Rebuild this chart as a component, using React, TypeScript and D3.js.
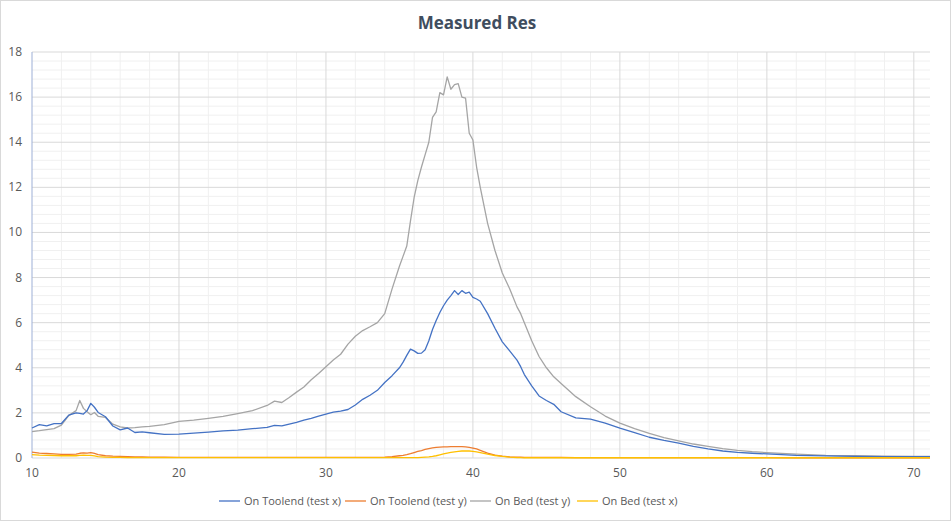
import { useEffect } from 'react';
import * as d3 from 'd3';

const freq = [
  10, 10.5, 11, 11.5, 12, 12.5, 13, 13.25, 13.5, 13.75,
  14, 14.25, 14.5, 15, 15.5, 16, 16.5, 17, 17.5, 18,
  19, 20, 21, 22, 23, 24, 25, 26, 26.5, 27,
  27.5, 28, 28.5, 29, 29.5, 30, 30.5, 31, 31.5, 32,
  32.5, 33, 33.5, 34, 34.5, 35, 35.25, 35.5, 35.75, 36,
  36.25, 36.5, 36.75, 37,
  37.25, 37.5, 37.75, 38, 38.25, 38.5, 38.75, 39, 39.25, 39.5,
  39.75, 40, 40.25, 40.5, 41, 41.5, 42, 42.5, 43, 43.25,
  43.5, 44, 44.5, 45, 45.5, 46, 47, 48, 49, 50,
  51, 52, 53, 54, 55, 56, 57, 58, 59, 60,
  62, 64, 66, 68, 70, 71.1,
];

const toolendX = [
  1.33, 1.48, 1.42, 1.52, 1.53, 1.9, 2.0, 1.98, 1.95, 2.1,
  2.42, 2.25, 2.02, 1.83, 1.42, 1.25, 1.33, 1.13, 1.16, 1.12,
  1.05, 1.06, 1.1, 1.15, 1.2, 1.24, 1.3, 1.36, 1.45, 1.42,
  1.5, 1.58, 1.68, 1.76, 1.86, 1.95, 2.03, 2.08, 2.15, 2.35,
  2.6, 2.78, 3.0, 3.35, 3.65, 4.0, 4.25, 4.55, 4.83, 4.75,
  4.64, 4.65, 4.8, 5.2,
  5.7, 6.1, 6.45, 6.75, 7.0, 7.2, 7.42, 7.25, 7.42, 7.3,
  7.35, 7.12, 7.05, 6.95, 6.4, 5.75, 5.15, 4.75, 4.34, 4.05,
  3.7, 3.2, 2.75, 2.55, 2.38, 2.05, 1.78, 1.72, 1.55, 1.32,
  1.12, 0.92, 0.78, 0.66, 0.52, 0.4, 0.31, 0.25, 0.21, 0.18,
  0.12, 0.09, 0.07, 0.06, 0.06, 0.06,
];

const toolendY = [
  0.26, 0.22, 0.2, 0.18, 0.16, 0.16, 0.17, 0.21, 0.23, 0.22,
  0.24, 0.2, 0.15, 0.1, 0.08, 0.07, 0.06, 0.05, 0.05, 0.04,
  0.04, 0.03, 0.03, 0.03, 0.03, 0.03, 0.03, 0.03, 0.03, 0.03,
  0.03, 0.03, 0.03, 0.03, 0.03, 0.03, 0.03, 0.03, 0.03, 0.03,
  0.03, 0.03, 0.03, 0.04, 0.06, 0.1, 0.12, 0.15, 0.19, 0.24,
  0.29, 0.33, 0.38, 0.42,
  0.45, 0.47, 0.48, 0.49, 0.49, 0.5, 0.5, 0.5, 0.5, 0.49,
  0.47, 0.44, 0.4, 0.34, 0.22, 0.13, 0.08, 0.05, 0.04, 0.04,
  0.03, 0.03, 0.03, 0.03, 0.03, 0.03, 0.02, 0.02, 0.02, 0.02,
  0.02, 0.02, 0.02, 0.02, 0.02, 0.02, 0.02, 0.02, 0.02, 0.02,
  0.01, 0.01, 0.01, 0.01, 0.01, 0.01,
];

const bedY = [
  1.17, 1.21, 1.26, 1.3, 1.46, 1.88, 2.1, 2.55, 2.2, 2.05,
  1.92, 2.02, 1.85, 1.8, 1.5, 1.38, 1.33, 1.35, 1.38, 1.4,
  1.48, 1.62, 1.68, 1.76, 1.85, 1.97, 2.1, 2.33, 2.52, 2.46,
  2.68, 2.92, 3.15, 3.47, 3.75, 4.05, 4.34, 4.6, 5.05, 5.4,
  5.65, 5.82, 6.0, 6.4, 7.5, 8.5, 8.95, 9.4, 10.5, 11.55,
  12.3, 12.9, 13.45, 14.0,
  15.1, 15.35, 16.2, 16.1, 16.9, 16.35, 16.55, 16.6, 16.0, 15.95,
  14.4, 14.1, 12.9, 12.0, 10.4, 9.2, 8.2, 7.5, 6.7, 6.4,
  6.0, 5.2, 4.5, 4.0, 3.6, 3.3, 2.72, 2.27, 1.86, 1.55,
  1.3, 1.09, 0.9, 0.76, 0.62, 0.52, 0.42, 0.34, 0.28, 0.24,
  0.17, 0.12, 0.1, 0.08, 0.07, 0.07,
];

const bedX = [
  0.15, 0.13, 0.12, 0.11, 0.1, 0.1, 0.1, 0.12, 0.13, 0.12,
  0.12, 0.09, 0.06, 0.04, 0.03, 0.03, 0.02, 0.02, 0.02, 0.02,
  0.02, 0.02, 0.02, 0.02, 0.02, 0.02, 0.02, 0.02, 0.02, 0.02,
  0.02, 0.02, 0.02, 0.02, 0.02, 0.02, 0.02, 0.02, 0.02, 0.02,
  0.02, 0.02, 0.02, 0.02, 0.02, 0.02, 0.02, 0.02, 0.02, 0.02,
  0.02, 0.03, 0.04, 0.05,
  0.07, 0.1, 0.14, 0.18, 0.22, 0.25, 0.27, 0.29, 0.31, 0.32,
  0.31, 0.29, 0.27, 0.24, 0.17, 0.11, 0.07, 0.04, 0.02, 0.02,
  0.01, 0.01, 0.01, 0.01, 0.01, 0.01, 0.01, 0.01, 0.01, 0.01,
  0.01, 0.01, 0.01, 0.01, 0.01, 0.01, 0.01, 0.01, 0.01, 0.01,
  0.01, 0.01, 0.01, 0.01, 0.01, 0.01,
];

const seriesNames = ['On Toolend (test x)', 'On Toolend (test y)', 'On Bed (test y)', 'On Bed (test x)'];
const seriesValues = [toolendX, toolendY, bedY, bedX];
const seriesColors = ['#4472C4', '#ED7D31', '#A5A5A5', '#FFC000'];
// draw order: small ones on top like the original
const drawOrder = [2, 0, 1, 3];

const xTicks = [10, 20, 30, 40, 50, 60, 70];
const yTicks = [0, 2, 4, 6, 8, 10, 12, 14, 16, 18];

const W = 951;
const H = 521;
const FONT = '"Open Sans", "Noto Sans", sans-serif';

export default function App() {
  useEffect(() => {
    document.body.style.margin = '0';
  }, []);

  const x = d3.scaleLinear().domain([10, 71.1]).range([32, 930]);
  const y = d3.scaleLinear().domain([0, 18]).range([458, 52]);

  const minorX = d3.range(10, 71, 2).filter((v) => v % 10 !== 0);
  const minorY = d3.range(0, 18.01, 0.4).filter((v) => Math.abs(v / 2 - Math.round(v / 2)) > 0.01);

  const line = (vals: number[]) =>
    d3
      .line<number>()
      .x((_, i) => x(freq[i]))
      .y((d) => y(d))(vals) ?? '';

  const legendX = [219, 345, 470, 577];

  return (
    <svg width={W} height={H} style={{ display: 'block', fontFamily: FONT }}>
      <rect x={0.5} y={0.5} width={W - 1} height={H - 1} fill="#fff" stroke="#d9d9d9" />
      <text x={477} y={29} textAnchor="middle" fontSize={17} fontWeight="bold" fill="#404d5e">
        Measured Res
      </text>

      {minorX.map((v) => (
        <line key={'mx' + v} x1={x(v)} x2={x(v)} y1={y(0)} y2={y(18)} stroke="#f0f0f0" />
      ))}
      {minorY.map((v) => (
        <line key={'my' + v} x1={x(10)} x2={x(71.1)} y1={y(v)} y2={y(v)} stroke="#f0f0f0" />
      ))}
      {xTicks.slice(1).map((v) => (
        <line key={'gx' + v} x1={x(v)} x2={x(v)} y1={y(0)} y2={y(18)} stroke="#d9d9d9" />
      ))}
      {yTicks.map((v) => (
        <line key={'gy' + v} x1={x(10)} x2={x(71.1)} y1={y(v)} y2={y(v)} stroke="#d9d9d9" />
      ))}
      <line x1={x(10)} x2={x(10)} y1={y(0)} y2={y(18)} stroke="#9dafd6" />

      {yTicks.map((v) => (
        <text key={'ty' + v} x={22} y={y(v) + 4} textAnchor="end" fontSize={12} fill="#595959">
          {v}
        </text>
      ))}
      {xTicks.map((v) => (
        <text key={'tx' + v} x={x(v)} y={477} textAnchor="middle" fontSize={12} fill="#595959">
          {v}
        </text>
      ))}

      {drawOrder.map((k) => (
        <path
          key={'s' + k}
          d={line(seriesValues[k])}
          fill="none"
          stroke={seriesColors[k]}
          strokeWidth={1.3}
          strokeLinejoin="round"
        />
      ))}

      {seriesNames.map((name, i) => (
        <g key={'lg' + i} transform={`translate(${legendX[i]},501)`}>
          <line x1={0} x2={21} y1={0} y2={0} stroke={seriesColors[i]} strokeWidth={1.3} />
          <text x={25} y={4} fontSize={11} fill="#595959">
            {name}
          </text>
        </g>
      ))}
    </svg>
  );
}
